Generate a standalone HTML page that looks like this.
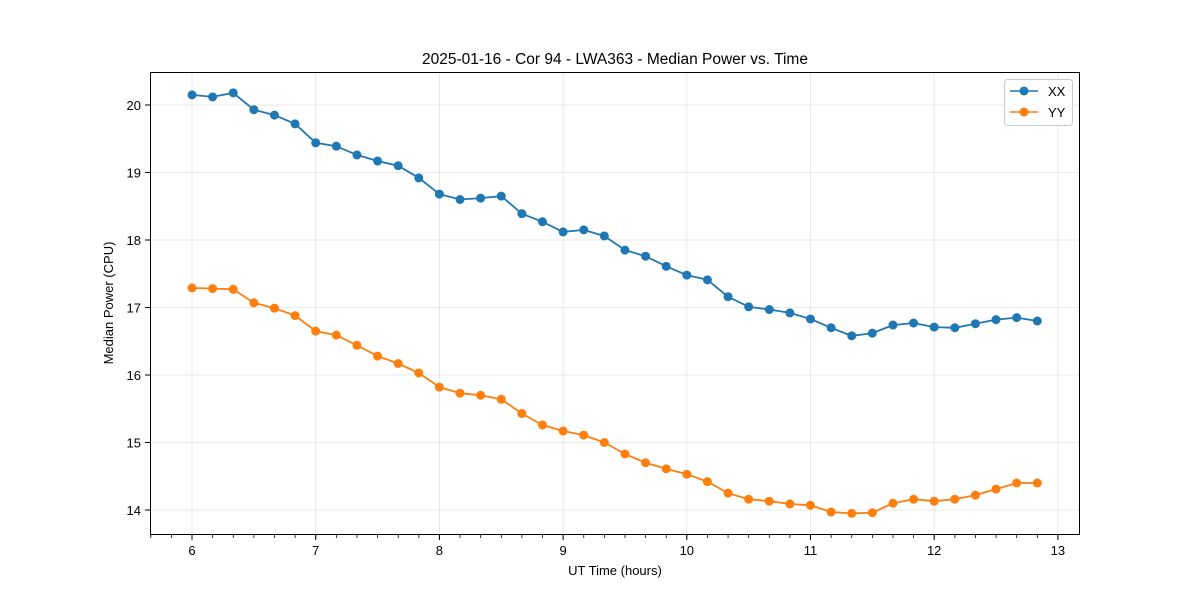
<!DOCTYPE html>
<html><head><meta charset="utf-8"><style>
body{margin:0;background:#fff;}
text{font-family:"Liberation Sans","DejaVu Sans",sans-serif;fill:#000;}
</style></head><body>
<svg id="chart" width="1200" height="600" xmlns="http://www.w3.org/2000/svg">
<rect width="1200" height="600" fill="#fff"/>
<text x="615" y="64" font-size="15.5" text-anchor="middle">2025-01-16 - Cor 94 - LWA363 - Median Power vs. Time</text>
<g id="grid"></g><g id="ticks"></g><g id="series"></g>
<rect x="150.5" y="72.5" width="929" height="462" fill="none" stroke="#000" stroke-width="1"/>
<text x="615" y="575" font-size="13" text-anchor="middle">UT Time (hours)</text>
<text transform="translate(113,303) rotate(-90)" font-size="13" text-anchor="middle">Median Power (CPU)</text>
<g>
<rect x="1004.5" y="79.5" width="68" height="46" rx="3" fill="#fff" stroke="#ccc"/>
<line x1="1010" y1="91" x2="1038" y2="91" stroke="#1f77b4" stroke-width="1.5"/><circle cx="1024" cy="91" r="4.5" fill="#1f77b4"/>
<text x="1048" y="96" font-size="13">XX</text>
<line x1="1010" y1="112" x2="1038" y2="112" stroke="#ff7f0e" stroke-width="1.5"/><circle cx="1024" cy="112" r="4.5" fill="#ff7f0e"/>
<text x="1048" y="117" font-size="13">YY</text>
</g>
</svg>
<script>
const xTicks=[6,7,8,9,10,11,12,13];
const yTicks=[14,15,16,17,18,19,20];
const xxValues=[20.15,20.12,20.18,19.93,19.85,19.72,19.44,19.39,19.26,19.17,19.1,18.92,18.68,18.6,18.62,18.65,18.39,18.27,18.12,18.15,18.06,17.85,17.76,17.61,17.48,17.41,17.16,17.01,16.97,16.92,16.83,16.7,16.58,16.62,16.74,16.77,16.71,16.7,16.76,16.82,16.85,16.8];
const yyValues=[17.29,17.28,17.27,17.07,16.99,16.88,16.65,16.59,16.44,16.28,16.17,16.03,15.82,15.73,15.7,15.64,15.43,15.26,15.17,15.11,15.0,14.83,14.7,14.61,14.53,14.42,14.25,14.16,14.13,14.09,14.07,13.97,13.95,13.96,14.1,14.16,14.13,14.16,14.22,14.31,14.4,14.4];
const startHour=6, stepHours=1/6;
const NS="http://www.w3.org/2000/svg";
const X=v=>192+(v-6)*123.7;
const Y=v=>510-(v-14)*67.5;
function mk(tag,attrs,parent){const e=document.createElementNS(NS,tag);for(const k in attrs)e.setAttribute(k,attrs[k]);document.getElementById(parent).appendChild(e);return e;}
xTicks.forEach(t=>{
 const g=mk('line',{x1:X(t),x2:X(t),y1:73,y2:534,stroke:'#b0b0b0','stroke-opacity':0.35,'stroke-width':0.8},'grid');
 
 const k=mk('line',{x1:X(t),x2:X(t),y1:535,y2:540,stroke:'#000'},'ticks');
 
 const l=mk('text',{x:X(t),y:555,'font-size':13,'text-anchor':'middle'},'ticks');l.textContent=t;
 
});
for(let m=5.667;m<=13.01;m+=1/6){
 const k=mk('line',{x1:X(m),x2:X(m),y1:535,y2:538,stroke:'#000','stroke-width':0.8},'ticks');
 
}
yTicks.forEach(t=>{
 const g=mk('line',{x1:151,x2:1079,y1:Y(t),y2:Y(t),stroke:'#b0b0b0','stroke-opacity':0.35,'stroke-width':0.8},'grid');
 
 const k=mk('line',{x1:145,x2:150,y1:Y(t),y2:Y(t),stroke:'#000'},'ticks');
 
 const l=mk('text',{x:141,y:Y(t)+5,'font-size':13,'text-anchor':'end'},'ticks');l.textContent=t;
 
});
function series(vals,color,name){
 const pts=vals.map((v,i)=>X(startHour+i*stepHours).toFixed(1)+','+Y(v).toFixed(1)).join(' ');
 const p=mk('polyline',{points:pts,fill:'none',stroke:color,'stroke-width':1.8},'series');
 
 vals.forEach((v,i)=>{const c=mk('circle',{cx:X(startHour+i*stepHours),cy:Y(v),r:4.5,fill:color},'series');
  });
}
series(xxValues,'#1f77b4','xx');
series(yyValues,'#ff7f0e','yy');
</script>
</body></html>
